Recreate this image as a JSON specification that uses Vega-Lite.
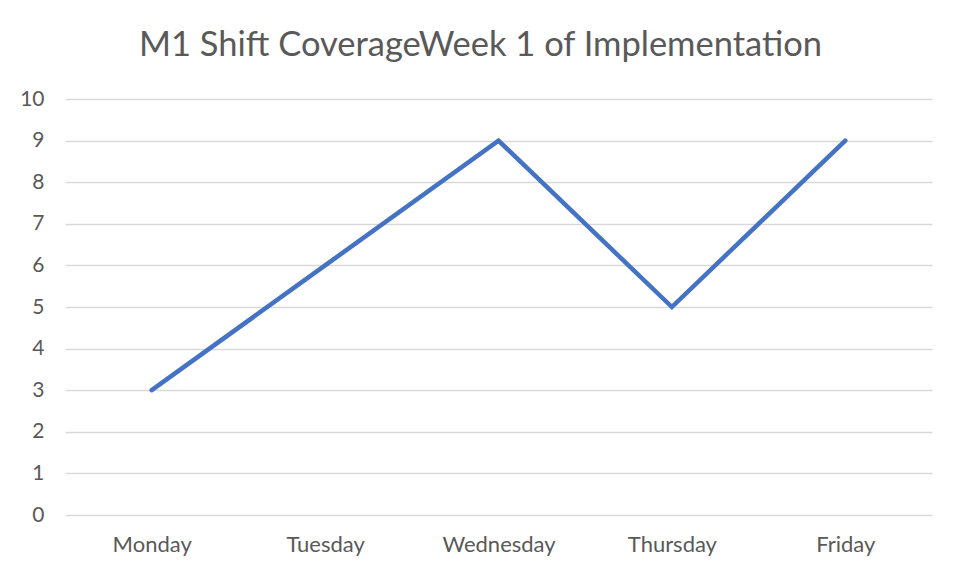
{
  "$schema": "https://vega.github.io/schema/vega-lite/v6.json",
  "autosize": {"type": "none"},
  "width": 867,
  "height": 416,
  "padding": {"left": 65, "top": 99, "right": 27, "bottom": 60},
  "background": "white",
  "title": {
    "text": "M1 Shift CoverageWeek 1 of Implementation",
    "fontSize": 34.5,
    "font": "Lato",
    "fontWeight": "normal",
    "color": "#595959",
    "anchor": "middle",
    "dx": -18,
    "offset": 25
  },
  "data": {
    "values": [
      {"day": "Monday", "value": 3},
      {"day": "Tuesday", "value": 6},
      {"day": "Wednesday", "value": 9},
      {"day": "Thursday", "value": 5},
      {"day": "Friday", "value": 9}
    ]
  },
  "mark": {"type": "line", "color": "#4472C4", "strokeWidth": 4.5, "strokeCap": "round", "strokeJoin": "miter"},
  "encoding": {
    "x": {
      "field": "day",
      "type": "nominal",
      "sort": null,
      "scale": {"type": "point", "padding": 0.5},
      "axis": {
        "title": null,
        "labelAngle": 0,
        "ticks": false,
        "domain": false,
        "grid": false,
        "labelFont": "Lato",
        "labelFontSize": 22,
        "labelColor": "#595959",
        "labelPadding": 19
      }
    },
    "y": {
      "field": "value",
      "type": "quantitative",
      "scale": {"domain": [0, 10]},
      "axis": {
        "title": null,
        "values": [0,1,2,3,4,5,6,7,8,9,10],
        "ticks": false,
        "domain": false,
        "gridColor": "#d9d9d9",
        "gridWidth": 1.5,
        "labelFont": "Lato",
        "labelFontSize": 21,
        "labelColor": "#595959",
        "labelPadding": 21
      }
    }
  },
  "config": {"view": {"stroke": null}}
}
